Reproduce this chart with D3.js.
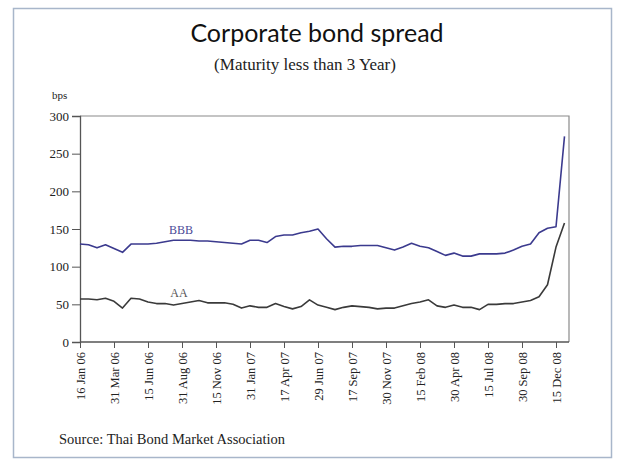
<!DOCTYPE html>
<html><head><meta charset="utf-8">
<script src="https://cdn.jsdelivr.net/npm/d3@7"></script>
<style>
html,body{margin:0;padding:0;background:#fff;}
svg{display:block;}
</style></head>
<body>
<svg id="chart" width="621" height="460"></svg>
<script>
const tickLabels = ["16 Jan 06","31 Mar 06","15 Jun 06","31 Aug 06","15 Nov 06","31 Jan 07","17 Apr 07","29 Jun 07","17 Sep 07","30 Nov 07","15 Feb 08","30 Apr 08","15 Jul 08","30 Sep 08","15 Dec 08"];
const bbbValues = [130,129,125,129,124,119,130,130,130,131,133,135,135,135,134,134,133,132,131,130,135,135,132,140,142,142,145,147,150,137,126,127,127,128,128,128,125,122,126,131,127,125,120,115,118,114,114,117,117,117,118,122,127,130,145,151,153,273];
const aaValues  = [57,57,56,58,54,45,58,57,53,51,51,49,51,53,55,52,52,52,50,45,48,46,46,51,47,44,47,56,49,46,43,46,48,47,46,44,45,45,48,51,53,56,48,46,49,46,46,43,50,50,51,51,53,55,60,76,126,158];
const yTicks = [0,50,100,150,200,250,300];
const pointsPerTick = 4;

const svg = d3.select("#chart");

// outer frame
svg.append("rect").attr("x",13.5).attr("y",8.5).attr("width",598).attr("height",449)
  .attr("fill","#fff").attr("stroke","#a8b6ca").attr("stroke-width",1.5);

const m = {left:80, top:116, right:569, bottom:342};
const x = d3.scaleLinear().domain([0, bbbValues.length-1]).range([m.left, m.left + (bbbValues.length-1)*8.5]);
const y = d3.scaleLinear().domain([0,300]).range([m.bottom, m.top]);

// titles
svg.append("text").attr("x",317).attr("y",42).attr("text-anchor","middle")
  .style("font-family","Lato, 'DejaVu Sans', sans-serif").style("font-size","25px").attr("fill","#111")
  .text("Corporate bond spread");
svg.append("text").attr("x",305).attr("y",70).attr("text-anchor","middle")
  .style("font-family","'Liberation Serif', 'DejaVu Serif', serif").style("font-size","17px").attr("fill","#222")
  .text("(Maturity less than 3 Year)");
svg.append("text").attr("x",52).attr("y",99)
  .style("font-family","'Liberation Serif', serif").style("font-size","11px").attr("fill","#222")
  .text("bps");

// plot frame (top & right)
svg.append("path").attr("d",`M${m.left},${m.top}H${m.right}V${m.bottom}`)
  .attr("fill","none").attr("stroke","#8a8a8a").attr("stroke-width",1.2);

// y axis
const yAxis = d3.axisLeft(y).tickValues(yTicks).tickSize(8).tickPadding(3);
const gy = svg.append("g").attr("transform",`translate(${m.left},0)`).call(yAxis);
gy.select(".domain").attr("stroke","#555").attr("stroke-width",1.3);
gy.selectAll(".tick line").attr("stroke","#555");
gy.selectAll("text").style("font-family","'Liberation Serif', serif").style("font-size","13px").attr("fill","#222");

// x axis
const tickIdx = tickLabels.map((d,i)=>i*pointsPerTick);
const xAxis = d3.axisBottom(x).tickValues(tickIdx).tickFormat((d,i)=>tickLabels[i]).tickSize(6).tickSizeOuter(0);
const gx = svg.append("g").attr("transform",`translate(0,${m.bottom})`).call(xAxis);
gx.select(".domain").attr("d",`M${m.left},0H${m.right}`).attr("stroke","#555").attr("stroke-width",1.3);
gx.selectAll(".tick line").attr("stroke","#555");
gx.selectAll("text")
  .style("font-family","'Liberation Serif', serif").style("font-size","12.5px").attr("fill","#222")
  .attr("text-anchor","end").attr("dy","0.35em")
  .attr("transform","translate(0,10) rotate(-90)").attr("x",0).attr("y",0);

// lines
const line = d3.line().x((d,i)=>x(i)).y(d=>y(d));
svg.append("path").datum(aaValues).attr("d",line).attr("fill","none")
  .attr("stroke","#3a3a3a").attr("stroke-width",1.6).attr("stroke-linejoin","round");
svg.append("path").datum(bbbValues).attr("d",line).attr("fill","none")
  .attr("stroke","#3b3a8e").attr("stroke-width",1.6).attr("stroke-linejoin","round");

// series labels
svg.append("text").attr("x",181).attr("y",234).attr("text-anchor","middle")
  .style("font-family","'Liberation Serif', serif").style("font-size","12px").attr("fill","#4a4a98").text("BBB");
svg.append("text").attr("x",179).attr("y",297).attr("text-anchor","middle")
  .style("font-family","'Liberation Serif', serif").style("font-size","12px").attr("fill","#555").text("AA");

// source
svg.append("text").attr("x",59).attr("y",444)
  .style("font-family","'Liberation Serif', serif").style("font-size","14.5px").attr("fill","#222")
  .text("Source: Thai Bond Market Association");
</script>
</body></html>
